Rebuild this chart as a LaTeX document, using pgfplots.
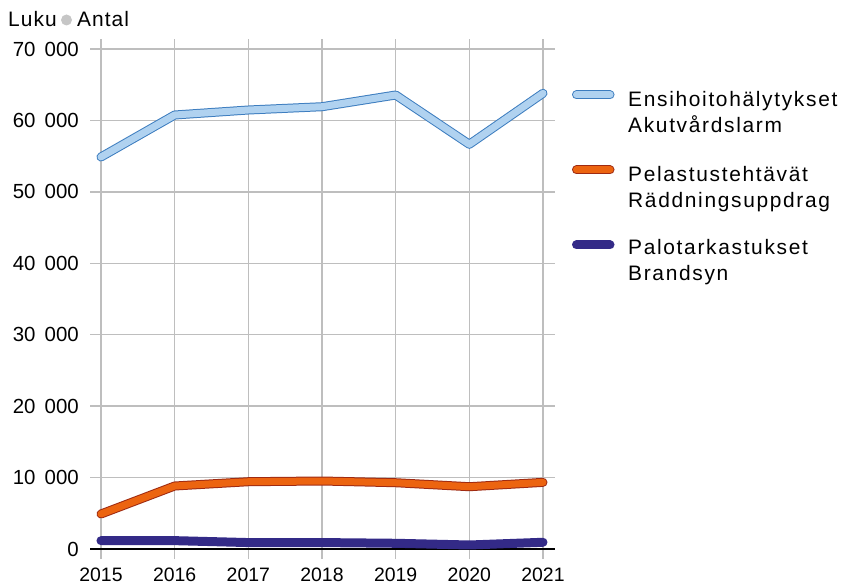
\documentclass[border=0pt]{standalone}
\usepackage{pgfplots}
\pgfplotsset{compat=1.18}
\usepackage{fontspec}
\setmainfont{Liberation Sans}
\newfontfamily\legfont[LetterSpace=8]{Liberation Sans}
\newfontfamily\hdfont[LetterSpace=5]{Liberation Sans}
\definecolor{bluefill}{HTML}{B0D2F0}
\definecolor{blueline}{HTML}{3D7DBF}
\definecolor{orfill}{HTML}{EC6410}
\definecolor{orline}{HTML}{9E2A12}
\definecolor{purp}{HTML}{332A87}
\definecolor{gridgray}{HTML}{BEBEBE}
\newcommand{\fs}{\fontsize{21}{27}\selectfont}
\newcommand{\tsp}{\hspace{0.45em}}
\begin{document}
\begin{tikzpicture}
\path[use as bounding box] (0bp,0bp) rectangle (841bp,586bp);
\node[anchor=base west, inner sep=0, font=\fs\hdfont] at (8bp,559bp) {Luku};
\fill[gray!45] (66.5bp,566bp) circle (5.5bp);
\node[anchor=base west, inner sep=0, font=\fs\hdfont] at (77bp,559bp) {Antal};
\begin{axis}[
  at={(90bp,37bp)}, anchor=south west,
  scale only axis, width=465bp, height=500bp,
  xmin=2014.851, xmax=2021.163, ymin=0, ymax=70000,
  scaled y ticks=false,
  axis line style={draw=none},
  grid=major,
  grid style={gridgray, line width=1.3bp},
  xtick={2015,2016,2017,2018,2019,2020,2021},
  xticklabels={2015,2016,2017,2018,2019,2020,2021},
  ytick={10000,20000,30000,40000,50000,60000,70000},
  yticklabels={10\tsp000,20\tsp000,30\tsp000,40\tsp000,50\tsp000,60\tsp000,70\tsp000},
  extra y ticks={0}, extra y tick labels={0},
  extra y tick style={grid style={black, line width=2bp}},
  x tick style={gridgray, line width=1.3bp},
  y tick style={draw=none},
  tick align=outside,
  major tick length=10bp,
  yticklabel style={font=\fontsize{20.5}{24}\selectfont, anchor=east, inner sep=0pt, xshift=-1bp},
  xticklabel style={font=\fontsize{19.5}{24}\selectfont, anchor=north, inner sep=0pt, yshift=-9bp},
  clip=false,
]
\addplot[blueline, line width=9bp, line cap=round, line join=round] coordinates {
(2015,54880)(2016,60760)(2017,61460)(2018,61920)(2019,63560)(2020,56660)(2021,63800)};
\addplot[bluefill, line width=7bp, line cap=round, line join=round] coordinates {
(2015,54880)(2016,60760)(2017,61460)(2018,61920)(2019,63560)(2020,56660)(2021,63800)};
\addplot[orline, line width=9bp, line cap=round, line join=round] coordinates {
(2015,4900)(2016,8820)(2017,9420)(2018,9520)(2019,9280)(2020,8720)(2021,9330)};
\addplot[orfill, line width=7bp, line cap=round, line join=round] coordinates {
(2015,4900)(2016,8820)(2017,9420)(2018,9520)(2019,9280)(2020,8720)(2021,9330)};
\addplot[purp, line width=9bp, line cap=round, line join=round] coordinates {
(2015,1170)(2016,1170)(2017,900)(2018,900)(2019,800)(2020,560)(2021,940)};
\end{axis}
% legend
\draw[blueline, line width=9bp, line cap=round] (576.5bp,491bp) -- (610bp,491bp);
\draw[bluefill, line width=7bp, line cap=round] (576.5bp,491bp) -- (610bp,491bp);
\node[anchor=base west, inner sep=0, font=\fs\legfont] at (628bp,479bp) {Ensihoitohälytykset};
\node[anchor=base west, inner sep=0, font=\fs\legfont] at (628bp,453bp) {Akutvårdslarm};
\draw[orline, line width=9bp, line cap=round] (576.5bp,416bp) -- (610bp,416bp);
\draw[orfill, line width=7bp, line cap=round] (576.5bp,416bp) -- (610bp,416bp);
\node[anchor=base west, inner sep=0, font=\fs\legfont] at (628bp,404bp) {Pelastustehtävät};
\node[anchor=base west, inner sep=0, font=\fs\legfont] at (628bp,378bp) {Räddningsuppdrag};
\draw[purp, line width=9bp, line cap=round] (576.5bp,341bp) -- (610bp,341bp);
\node[anchor=base west, inner sep=0, font=\fs\legfont] at (628bp,331bp) {Palotarkastukset};
\node[anchor=base west, inner sep=0, font=\fs\legfont] at (628bp,305bp) {Brandsyn};
\end{tikzpicture}
\end{document}
